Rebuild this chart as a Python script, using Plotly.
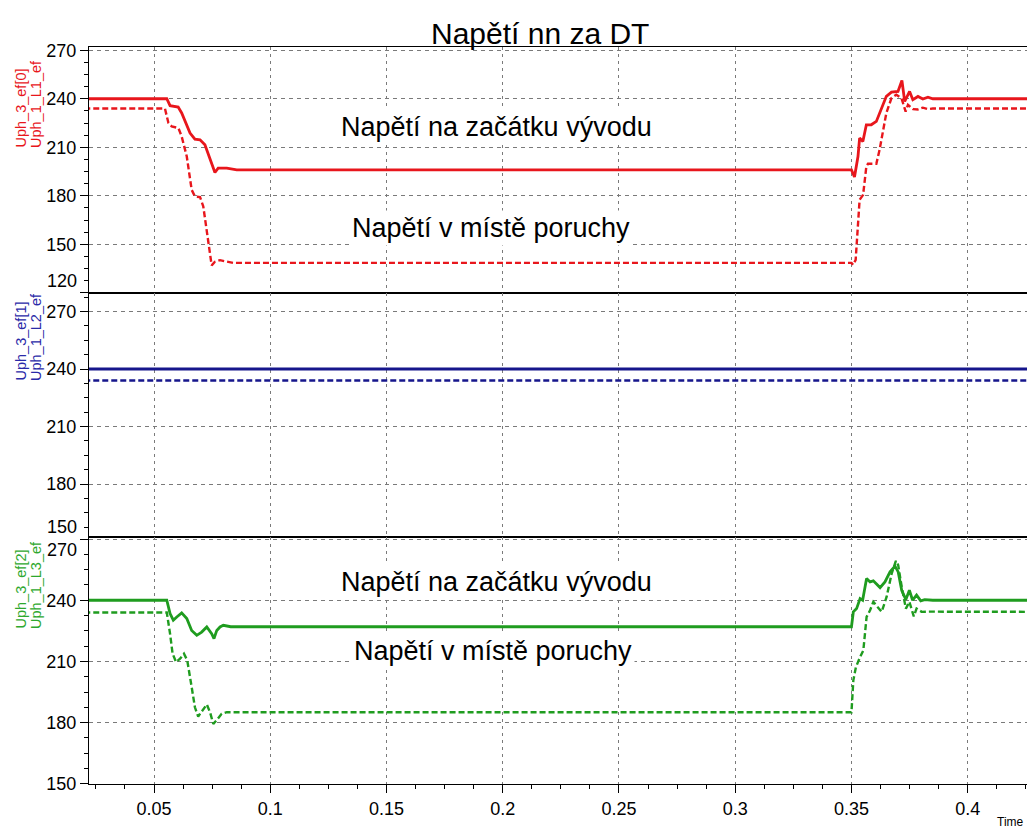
import plotly.graph_objects as go
from plotly.subplots import make_subplots

# ---- time axis ticks [s] ----
x_ticks = [0.05, 0.1, 0.15, 0.2, 0.25, 0.3, 0.35, 0.4]
x_tick_labels = ["0.05", "0.1", "0.15", "0.2", "0.25", "0.3", "0.35", "0.4"]

# ---- voltage axis ticks [V] per panel ----
y_ticks_l1 = [120, 150, 180, 210, 240, 270]
y_ticks_l2 = [150, 180, 210, 240, 270]
y_ticks_l3 = [150, 180, 210, 240, 270]

# ---- phase L1: feeder start (solid) and fault location (dashed) [V] ----
t_l1_start = [0.02, 0.0555, 0.0569, 0.0604, 0.0619, 0.0655, 0.0676, 0.0698, 0.0719, 0.0755,
              0.0762, 0.0776, 0.0813, 0.0856, 0.35, 0.3513, 0.3528, 0.3535, 0.3549, 0.3564,
              0.3585, 0.3607, 0.3628, 0.365, 0.3672, 0.37, 0.3717, 0.3729, 0.375, 0.3764,
              0.3786, 0.3807, 0.3829, 0.385, 0.43]
u_l1_start = [240, 240, 235.7, 234.9, 231.2, 218.8, 215.0, 214.6, 211.5, 196.1,
              194.4, 197.1, 197.1, 196.0, 196.0, 191.6, 204.3, 215.7, 213.6, 223.9,
              223.9, 226.0, 233.2, 241.5, 244.1, 244.5, 251.3, 238.3, 244.5, 239.4,
              241.4, 239.8, 241.0, 240, 240]

t_l1_fault = [0.02, 0.0547, 0.0562, 0.0576, 0.0605, 0.0619, 0.0641, 0.0662, 0.0676, 0.0698,
              0.0712, 0.0734, 0.0748, 0.0762, 0.0784, 0.0813, 0.0841, 0.35, 0.3507, 0.3518,
              0.3528, 0.3535, 0.355, 0.3564, 0.3571, 0.3607, 0.3621, 0.3636, 0.365, 0.3672,
              0.3693, 0.3715, 0.3733, 0.3743, 0.3765, 0.3786, 0.3807, 0.3829, 0.385, 0.43]
u_l1_fault = [234, 234, 225.0, 222.9, 221.9, 216.7, 204.3, 183.7, 179.6, 179.2,
              173.4, 152.8, 137.0, 139.2, 140.2, 139.3, 138.5, 138.5, 137.3, 140.4,
              159.0, 177.5, 180.6, 198.1, 199.8, 199.8, 208.5, 220.8, 231.2, 240.4,
              242.5, 240.4, 232.1, 236.3, 233.6, 233.4, 234.5, 233.6, 234, 234]

# ---- phase L2: unaffected ----
t_l2_start = [0.02, 0.43]
u_l2_start = [240, 240]
t_l2_fault = [0.02, 0.43]
u_l2_fault = [234, 234]

# ---- phase L3 ----
t_l3_start = [0.02, 0.0555, 0.0569, 0.0583, 0.0598, 0.0619, 0.0641, 0.0662, 0.0684, 0.0705,
              0.0727, 0.0748, 0.0758, 0.077, 0.0784, 0.0798, 0.083, 0.35, 0.3508, 0.3522,
              0.3537, 0.3548, 0.3565, 0.358, 0.3594, 0.3623, 0.3644, 0.3666, 0.3687, 0.3701,
              0.3716, 0.3734, 0.3749, 0.3763, 0.378, 0.3798, 0.3815, 0.385, 0.43]
u_l3_start = [240, 240, 233.5, 230.2, 231.8, 233.8, 231.0, 225.2, 222.8, 224.4,
              226.9, 223.6, 221.2, 225.2, 226.9, 227.7, 227, 227, 234.3, 235.9,
              240.8, 240.0, 250.7, 249.0, 249.5, 246.2, 249.0, 253.9, 256.7, 253.9,
              244.9, 240.3, 244.9, 240.0, 242.5, 239.7, 240.3, 240, 240]

t_l3_fault = [0.02, 0.0555, 0.0569, 0.058, 0.0595, 0.0612, 0.0629, 0.0643, 0.0662, 0.0676,
              0.069, 0.0712, 0.0727, 0.0741, 0.0755, 0.077, 0.0791, 0.0813, 0.35, 0.3508,
              0.3519, 0.3537, 0.3551, 0.3565, 0.358, 0.3594, 0.3608, 0.363, 0.3651, 0.3673,
              0.3691, 0.3701, 0.3716, 0.3734, 0.3749, 0.3768, 0.378, 0.3802, 0.3835, 0.43]
u_l3_fault = [234, 234, 223.6, 213.8, 209.7, 211.3, 213.8, 210.5, 197.4, 187.5,
              183.0, 186.7, 188.9, 185.1, 179.4, 181.3, 184.3, 185.1, 185.1, 200.7,
              207.2, 212.1, 215.4, 231.8, 235.1, 239.2, 237.5, 234.3, 241.6, 253.1,
              259.3, 257.2, 246.6, 235.9, 239.2, 232.1, 235.9, 234.3, 234.4, 234.3]

RED = "#e8161c"
BLUE = "#16168c"
GREEN = "#1f9c1f"
FONT = "Liberation Sans, Arial, sans-serif"

fig = make_subplots(rows=3, cols=1, shared_xaxes=True, vertical_spacing=0)

panels = [
    (1, RED, t_l1_start, u_l1_start, t_l1_fault, u_l1_fault),
    (2, BLUE, t_l2_start, u_l2_start, t_l2_fault, u_l2_fault),
    (3, GREEN, t_l3_start, u_l3_start, t_l3_fault, u_l3_fault),
]
for row, col, ts, us, tf, uf in panels:
    fig.add_trace(go.Scatter(x=tf, y=uf, mode="lines",
                             line=dict(color=col, width=2.4, dash="6px,3px")),
                  row=row, col=1)
    fig.add_trace(go.Scatter(x=ts, y=us, mode="lines",
                             line=dict(color=col, width=2.8)),
                  row=row, col=1)

# plot-area geometry: three panels stacked without gaps (pixel rows 47..784)
H_PLOT = 737.0
dom = {1: [(784 - 293) / H_PLOT, 1.0],
       2: [(784 - 537) / H_PLOT, (784 - 293) / H_PLOT],
       3: [0.0, (784 - 537) / H_PLOT]}
yranges = {1: [119.9, 272.0], 2: [152.35, 279.65], 3: [149.9, 271.0]}
yticks = {1: y_ticks_l1, 2: y_ticks_l2, 3: y_ticks_l3}
# values whose labels sit on a panel seam are drawn nudged away from it
seam_values = {1: 120, 2: 150, 3: 270}

for row in (1, 2, 3):
    tv = yticks[row]
    tt = ["" if v == seam_values[row] else str(v) for v in tv]
    fig.update_yaxes(row=row, col=1, domain=dom[row], range=yranges[row],
                     tickmode="array", tickvals=tv, ticktext=tt,
                     ticks="outside", ticklen=8, tickcolor="black",
                     showline=True, linecolor="black", linewidth=1,
                     showgrid=True, gridcolor="#7a7a7a", griddash="4px,4px", gridwidth=1,
                     zeroline=False,
                     tickfont=dict(family=FONT, size=18, color="black"),
                     minor=dict(tick0=0, dtick=7.5, ticks="outside", ticklen=4,
                                tickcolor="black", showgrid=False))
    fig.update_xaxes(row=row, col=1, range=[0.02204, 0.4255],
                     tickvals=x_ticks, ticktext=x_tick_labels,
                     ticks="outside" if row == 3 else "", ticklen=8, tickcolor="black",
                     showticklabels=(row == 3),
                     showline=True, mirror=True, linecolor="black", linewidth=1,
                     showgrid=True, gridcolor="#7a7a7a", griddash="3px,4px", gridwidth=1,
                     zeroline=False,
                     tickfont=dict(family=FONT, size=18, color="black"),
                     minor=dict(tick0=0, dtick=0.0125, ticks="outside" if row == 3 else "",
                                ticklen=4, tickcolor="black", showgrid=False))


def px_x(px):
    return (px - 89) / 938.0


def px_y(py):
    return (784 - py) / H_PLOT


annotations = [
    dict(text="Napětí nn za DT", x=px_x(540), y=px_y(33), xref="paper", yref="paper",
         xanchor="center", yanchor="middle",
         showarrow=False, font=dict(family=FONT, size=30, color="black")),
    dict(text="Time", x=px_x(995), y=px_y(822), xref="paper", yref="paper",
         xanchor="left", yanchor="middle", showarrow=False,
         font=dict(family=FONT, size=12, color="black")),
]

# seam tick labels
for txt, py in (("120", 281), ("150", 527), ("270", 550)):
    annotations.append(dict(text=txt, x=px_x(79), y=px_y(py), xref="paper", yref="paper",
                            xanchor="right", yanchor="middle", showarrow=False,
                            font=dict(family=FONT, size=18, color="black")))

axis_titles = [
    ("Uph_3_ef[0]", "Uph_1_L1_ef", RED, 150),
    ("Uph_3_ef[1]", "Uph_1_L2_ef", "#2a2aa8", 383),
    ("Uph_3_ef[2]", "Uph_1_L3_ef", "#2ea82e", 631),
]
for line1, line2, col, ybot in axis_titles:
    for txt, xc in ((line1, 20), (line2, 36)):
        annotations.append(dict(text=txt, x=px_x(xc), y=px_y(ybot), xref="paper", yref="paper",
                                textangle=-90, xanchor="center", yanchor="bottom",
                                showarrow=False, font=dict(family=FONT, size=14.5, color=col)))

labels = [
    ("Napětí na začátku vývodu", 0.1975, 222.7, "x", "y"),
    ("Napětí v místě poruchy", 0.195, 160.2, "x", "y"),
    ("Napětí na začátku vývodu", 0.1975, 248.9, "x3", "y3"),
    ("Napětí v místě poruchy", 0.1958, 214.9, "x3", "y3"),
]
for txt, xv, yv, xr, yr in labels:
    annotations.append(dict(text=txt, x=xv, y=yv, xref=xr, yref=yr,
                            xanchor="center", yanchor="middle",
                            showarrow=False, bgcolor="white", borderpad=2,
                            font=dict(family=FONT, size=27, color="black")))

fig.update_layout(
    width=1027, height=833,
    margin=dict(l=89, r=0, t=47, b=49),
    paper_bgcolor="white", plot_bgcolor="white",
    showlegend=False,
    annotations=annotations,
)

fig.write_html("out.html")
